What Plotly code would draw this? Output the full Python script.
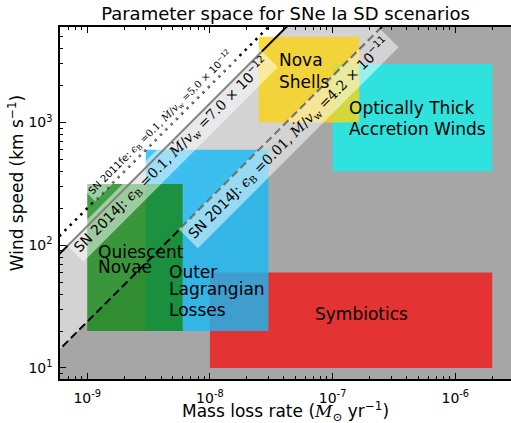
import numpy as np
import plotly.graph_objects as go

# ---------------- data ----------------
region_names = ["Symbiotics", "Outer Lagrangian Losses", "Quiescent Novae",
                "Optically Thick Accretion Winds", "Nova Shells"]
mdot_lo = [1e-8, 3e-9, 1e-9, 1e-7, 2.5e-8]      # Msun/yr
mdot_hi = [2e-6, 3e-8, 6e-9, 2e-6, 1.65e-7]
v_lo = [10, 20, 20, 400, 1000]                    # km/s
v_hi = [60, 600, 316, 3000, 5000]
region_colors = ["rgba(242,22,22,0.8)", "rgba(22,185,246,0.8)", "rgba(20,135,20,0.8)",
                 "rgba(19,241,236,0.8)", "rgba(250,212,20,0.8)"]

limit_names = ["SN 2011fe: eps_B=0.1", "SN 2014J: eps_B=0.1", "SN 2014J: eps_B=0.01"]
mdot_over_vw = [5.0e-12, 7.0e-12, 4.2e-11]
eps_B = ["0.1", "0.1", "0.01"]
limit_dash = ["2.5px,5px", "solid", "8px,4px"]
limit_width = [2.5, 2, 2]

x_tick_vals = [1e-9, 1e-8, 1e-7, 1e-6]
x_tick_text = ["10<sup>-9</sup>", "10<sup>-8</sup>", "10<sup>-7</sup>", "10<sup>-6</sup>"]
y_tick_vals = [10, 100, 1000]
y_tick_text = ["10<sup>1</sup>", "10<sup>2</sup>", "10<sup>3</sup>"]

x_range = [6.0e-10, 2.846e-6]
y_range = [8.13, 6000]

FONT = "DejaVu Sans"
SERIF = "DejaVu Serif"

fig = go.Figure()

# far extents for fills (clipped by axes)
XA, XB, YA, YB = 1e-11, 1e-4, 1.0, 1e6

# light gray: below SN2014J eps=0.1 line ; dark gray: below eps=0.01 line
for K, col in [(mdot_over_vw[1], "#d3d3d3"), (mdot_over_vw[2], "#a6a6a6")]:
    xs = [XA, YB * K, XB, XB, XA, XA]
    ys = [XA / K, YB, YB, YA, YA, XA / K]
    fig.add_trace(go.Scatter(x=xs, y=ys, mode="lines", line=dict(width=0),
                             fill="toself", fillcolor=col, hoverinfo="skip",
                             showlegend=False))

# regions
for name, x0, x1, y0, y1, c in zip(region_names, mdot_lo, mdot_hi, v_lo, v_hi, region_colors):
    fig.add_trace(go.Scatter(x=[x0, x1, x1, x0, x0], y=[y0, y0, y1, y1, y0],
                             mode="lines", line=dict(width=0), fill="toself",
                             fillcolor=c, name=name, showlegend=False))

# limit lines
for name, K, d, w in zip(limit_names, mdot_over_vw, limit_dash, limit_width):
    xl = np.array([XA, XB])
    fig.add_trace(go.Scatter(x=xl, y=xl / K, mode="lines", name=name,
                             line=dict(color="black", width=w, dash=d),
                             showlegend=False))

def S(t):
    return '<span style="font-family:%s">%s</span>' % (SERIF, t)

def band_text(sn, eps, K):
    mant, ex = ("%.1e" % K).split("e")
    ex = int(ex)
    return (sn + ": " + S("<i>ϵ</i><sub>B</sub> =" + eps + ", <i>Ṁ</i>/<i>v</i><sub>w</sub> =" + mant)
            + " × 10<sup>−%d</sup>" % (-ex))

band_labels = [("SN 2011fe", 0), ("SN 2014J", 1), ("SN 2014J", 2)]
band_pos = [(3.9e-9, 1000), (4.81e-9, 545), (4.4e-8, 750)]
band_size = [10, 14, 14]

annotations = []
for (sn, i), (bx, by), fs in zip(band_labels, band_pos, band_size):
    annotations.append(dict(
        x=np.log10(bx), y=np.log10(by), xref="x", yref="y",
        text=band_text(sn, eps_B[i], mdot_over_vw[i]), textangle=-45,
        showarrow=False, bgcolor="rgba(255,255,255,0.5)", borderpad=3 if fs > 10 else 2,
        font=dict(family=FONT, size=fs, color="black"),
        xanchor="center", yanchor="middle"))

# region labels (text, Mdot, v, anchor)
region_labels = [
    ("Nova", 3.5e-8, 3245, "left"), ("Shells", 3.5e-8, 2158, "left"),
    ("Optically Thick", 1.30e-7, 1325, "left"), ("Accretion Winds", 1.30e-7, 889, "left"),
    ("Quiescent", 1.19e-9, 87.8, "left"), ("Novae", 1.19e-9, 67.0, "left"),
    ("Outer", 4.49e-9, 61.0, "left"), ("Lagrangian", 4.49e-9, 44.0, "left"),
    ("Losses", 4.49e-9, 29.7, "left"),
    ("Symbiotics", 1.71e-7, 27.4, "center"),
]
for t, lx, ly, anc in region_labels:
    annotations.append(dict(x=np.log10(lx), y=np.log10(ly), xref="x", yref="y", text=t,
                            showarrow=False, xanchor=anc, yanchor="middle",
                            font=dict(family=FONT, size=17, color="black")))

# axis titles
annotations.append(dict(x=0.5, y=-0.093, xref="paper", yref="paper",
                        text="Mass loss rate (" + S("<i>M</i><sub>⊙</sub>") + " yr<sup>−1</sup>)",
                        showarrow=False, xanchor="center", yanchor="middle",
                        font=dict(family=FONT, size=17, color="black")))
annotations.append(dict(x=-0.0976, y=0.556, xref="paper", yref="paper",
                        text="Wind speed (km s<sup>−1</sup>)", textangle=-90,
                        showarrow=False, xanchor="center", yanchor="middle",
                        font=dict(family=FONT, size=17, color="black")))

def minor_vals(lo, hi):
    out = []
    for e in range(int(np.floor(np.log10(lo))) - 1, int(np.ceil(np.log10(hi))) + 1):
        for m in range(2, 10):
            out.append(m * 10.0 ** e)
    return out

fig.update_layout(
    template="none",
    width=511, height=423,
    margin=dict(l=60, r=0, t=27, b=44, autoexpand=False),
    paper_bgcolor="white", plot_bgcolor="white",
    showlegend=False,
    title=dict(text="Parameter space for SNe Ia SD scenarios", x=0.5, xref="paper",
               y=1 - 14 / 423, yref="container", xanchor="center", yanchor="middle",
               font=dict(family=FONT, size=18, color="black")),
    annotations=annotations,
    font=dict(family=FONT, color="black"),
)
fig.update_xaxes(type="log", range=[np.log10(x_range[0]), np.log10(x_range[1])],
                 showgrid=False, zeroline=False, showline=True, linecolor="black", linewidth=1.5,
                 mirror="allticks", ticks="inside", ticklen=6, tickwidth=1, tickcolor="black",
                 tickmode="array", tickvals=x_tick_vals, ticktext=x_tick_text,
                 tickfont=dict(family=FONT, size=14, color="black"), automargin=False,
                 ticklabelstandoff=5,
                 minor=dict(ticks="inside", ticklen=3, tickwidth=1, tickcolor="black",
                            tickmode="array", tickvals=minor_vals(*x_range), showgrid=False))
fig.update_yaxes(type="log", range=[np.log10(y_range[0]), np.log10(y_range[1])],
                 showgrid=False, zeroline=False, showline=True, linecolor="black", linewidth=1.5,
                 mirror=False, ticks="inside", ticklen=6, tickwidth=1, tickcolor="black",
                 tickmode="array", tickvals=y_tick_vals, ticktext=y_tick_text,
                 tickfont=dict(family=FONT, size=14, color="black"), automargin=False,
                 ticklabelstandoff=3,
                 minor=dict(ticks="inside", ticklen=3, tickwidth=1, tickcolor="black",
                            tickmode="array", tickvals=minor_vals(*y_range), showgrid=False))

fig.write_html("out.html")
